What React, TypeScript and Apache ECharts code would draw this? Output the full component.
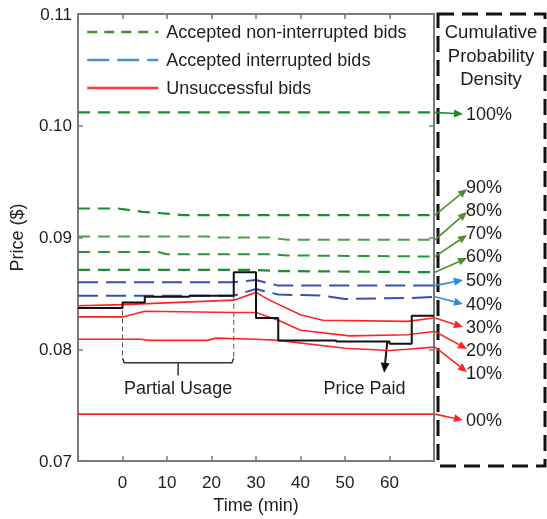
import React, { useEffect, useRef } from "react";
import * as echarts from "echarts";

// ---------- data ----------
const xMin = -10;
const xMax = 70;
const xInterval = 10;
const yMin = 0.07;
const yMax = 0.11;
const yInterval = 0.01;

const legendNames = [
  "Accepted non-interrupted bids",
  "Accepted interrupted bids",
  "Unsuccessful bids",
];

// Accepted non-interrupted bids (percentile curves)
const p100X = [-10, 70];
const p100Y = [0.1012, 0.1012];
const p90X = [-10, -1, 4.5, 11, 13.5, 70];
const p90Y = [0.0926, 0.0926, 0.0923, 0.0921, 0.092, 0.092];
const p80X = [-10, 19, 21, 33, 37, 70];
const p80Y = [0.0901, 0.0901, 0.09, 0.09, 0.0898, 0.0898];
const p70X = [-10, 8, 10, 33, 37, 70];
const p70Y = [0.0887, 0.0887, 0.0885, 0.0885, 0.0884, 0.0883];
const p60X = [-10, 30, 35, 70];
const p60Y = [0.0871, 0.0871, 0.087, 0.0869];

// Accepted interrupted bids
const p50X = [-10, 25, 30, 35, 70];
const p50Y = [0.086, 0.086, 0.0862, 0.0857, 0.0857];
const p40X = [-10, 25, 30, 35, 45, 50, 65, 70];
const p40Y = [0.0848, 0.0848, 0.0854, 0.0849, 0.0848, 0.0845, 0.0846, 0.0847];

// Unsuccessful bids
const p30X = [-10, 0, 25, 30, 33, 40, 45, 64, 70];
const p30Y = [0.0839, 0.084, 0.0844, 0.0851, 0.0844, 0.0831, 0.0826, 0.0825, 0.0828];
const p20X = [-10, 0, 5, 25, 30, 35, 40, 51, 64, 70];
const p20Y = [0.0829, 0.0829, 0.0834, 0.0833, 0.0833, 0.0826, 0.0817, 0.0812, 0.0813, 0.0816];
const p10X = [-10, 4, 6, 19, 21, 30, 35, 50, 60, 64, 70];
const p10Y = [0.0809, 0.0809, 0.0808, 0.0808, 0.081, 0.0809, 0.0808, 0.0801, 0.0799, 0.08, 0.0802];
const p00X = [-10, 70];
const p00Y = [0.0742, 0.0742];

// Price paid (step, value held until next x)
const priceX = [-10, 0, 5, 15, 25, 30, 35, 48, 60, 65, 70];
const priceY = [0.0837, 0.0842, 0.0847, 0.0848, 0.0869, 0.0828, 0.0808, 0.0807, 0.0805, 0.083, 0.083];

// Percentile labels (top to bottom)
const pctLabels = ["100%", "90%", "80%", "70%", "60%", "50%", "40%", "30%", "20%", "10%", "00%"];

// Annotations
const partialStart = 0;
const partialEnd = 25;
const bracketY = 0.0788;
const bracketTipY = 0.07765;
const annotTextY = 0.07658;
const pricePaidFrom = [59.5, 0.0807];
const pricePaidTo = [58.8, 0.0779];
const pricePaidTextX = 54.4;

// ---------- styles ----------
const FONT = "Liberation Sans, Arial, Helvetica, sans-serif";
const GREEN_D = "#1f8a36";
const GREEN_L = "#44a24c";
const BLUE = "#3a4db3";
const RED = "#ff2424";
const ARROW_GREEN = "#4f8d31";
const ARROW_BLUE = "#2b8be0";
const TEXT = "#1e1e1e";
const AXIS = "#7a7a7a";

const zip = (xs: number[], ys: number[]) => xs.map((x, i) => [x, ys[i]]);

type Spec = { x: number[]; y: number[]; name: string; color: string; dash: any; width: number; arrow: string };
const specs: Spec[] = [
  { x: p100X, y: p100Y, name: legendNames[0], color: GREEN_D, dash: [12, 8], width: 2.2, arrow: GREEN_D },
  { x: p90X, y: p90Y, name: legendNames[0], color: GREEN_D, dash: [12, 8], width: 2.2, arrow: ARROW_GREEN },
  { x: p80X, y: p80Y, name: legendNames[0], color: GREEN_L, dash: [12, 8], width: 2, arrow: ARROW_GREEN },
  { x: p70X, y: p70Y, name: legendNames[0], color: "#2a9340", dash: [12, 8], width: 2, arrow: ARROW_GREEN },
  { x: p60X, y: p60Y, name: legendNames[0], color: GREEN_D, dash: [12, 8], width: 2.2, arrow: ARROW_GREEN },
  { x: p50X, y: p50Y, name: legendNames[1], color: BLUE, dash: [20, 8], width: 2, arrow: ARROW_BLUE },
  { x: p40X, y: p40Y, name: legendNames[1], color: BLUE, dash: [20, 8], width: 2, arrow: ARROW_BLUE },
  { x: p30X, y: p30Y, name: legendNames[2], color: RED, dash: "solid", width: 1.6, arrow: RED },
  { x: p20X, y: p20Y, name: legendNames[2], color: RED, dash: "solid", width: 1.6, arrow: RED },
  { x: p10X, y: p10Y, name: legendNames[2], color: RED, dash: "solid", width: 1.6, arrow: RED },
  { x: p00X, y: p00Y, name: legendNames[2], color: RED, dash: "solid", width: 1.6, arrow: RED },
];

// label layout (pixel positions on the right panel)
const pctLabelX = 466;
const pctLabelYs = [114, 187, 210, 233, 256, 280, 304, 327, 350, 373, 420];

function arrow(x1: number, y1: number, x2: number, y2: number, color: string, w = 1.5, L = 9, H = 4) {
  const ang = Math.atan2(y2 - y1, x2 - x1);
  const bx = x2 - L * Math.cos(ang);
  const by = y2 - L * Math.sin(ang);
  const nx = -Math.sin(ang);
  const ny = Math.cos(ang);
  return [
    { type: "line", silent: true, shape: { x1, y1, x2: bx, y2: by }, style: { stroke: color, lineWidth: w } },
    {
      type: "polygon",
      silent: true,
      shape: { points: [[x2, y2], [bx + nx * H, by + ny * H], [bx - nx * H, by - ny * H]] },
      style: { fill: color },
    },
  ];
}

export default function App() {
  const ref = useRef<HTMLDivElement>(null);
  useEffect(() => {
    const chart = echarts.init(ref.current!, null, { renderer: "svg" });
    const tickStyle = { inside: true, length: 5, lineStyle: { color: AXIS, width: 1.5 } };
    const axisLine = { show: true, onZero: false, lineStyle: { color: AXIS, width: 2 } };

    const series: any[] = specs.map((s) => ({
      type: "line",
      name: s.name,
      data: zip(s.x, s.y),
      symbol: "none",
      showSymbol: false,
      lineStyle: { color: s.color, type: s.dash, width: s.width },
      itemStyle: { color: s.color },
      z: 2,
    }));
    series.push({
      type: "line",
      name: "Price Paid",
      data: zip(priceX, priceY),
      step: "end",
      symbol: "none",
      lineStyle: { color: "#111", width: 2 },
      z: 4,
    });
    // Partial usage bracket
    series.push({
      type: "line",
      name: "guide-a",
      data: [[partialStart, priceY[1]], [partialStart, bracketY + 0.0004]],
      symbol: "none",
      lineStyle: { color: "#555", width: 1, type: [5, 3] },
      z: 3,
    });
    series.push({
      type: "line",
      name: "guide-b",
      data: [[partialEnd, priceY[3]], [partialEnd, bracketY + 0.0004]],
      symbol: "none",
      lineStyle: { color: "#555", width: 1, type: [5, 3] },
      z: 3,
    });
    series.push({
      type: "line",
      name: "bracket",
      data: [
        [partialStart, bracketY + 0.0004],
        [partialStart + 0.4, bracketY],
        [partialEnd - 0.4, bracketY],
        [partialEnd, bracketY + 0.0004],
      ],
      symbol: "none",
      lineStyle: { color: "#333", width: 1.5 },
      z: 3,
    });
    series.push({
      type: "line",
      name: "bracket-tip",
      data: [[(partialStart + partialEnd) / 2, bracketY], [(partialStart + partialEnd) / 2, bracketTipY]],
      symbol: "none",
      lineStyle: { color: "#333", width: 1.5 },
      z: 3,
    });

    const option: any = {
      animation: false,
      textStyle: { fontFamily: FONT },
      grid: { left: 78, right: 113, top: 14, bottom: 55, containLabel: false },
      legend: {
        orient: "vertical",
        left: 86,
        top: 23,
        padding: 0,
        itemWidth: 71,
        itemHeight: 14,
        itemGap: 10,
        selectedMode: false,
        itemStyle: { opacity: 0 },
        textStyle: { fontSize: 18, color: TEXT, fontFamily: FONT, padding: [0, 0, 0, 3] },
        data: [
          { name: legendNames[0], itemStyle: { opacity: 0 }, lineStyle: { color: "#4e8c3a", type: [10, 7], width: 2.5 } },
          { name: legendNames[1], itemStyle: { opacity: 0 }, lineStyle: { color: "#4a90d9", type: [22, 8], width: 2.5 } },
          { name: legendNames[2], itemStyle: { opacity: 0 }, lineStyle: { color: "#ff3a3a", type: "solid", width: 2.5 } },
        ],
      },
      xAxis: [
        {
          type: "value",
          min: xMin,
          max: xMax,
          interval: xInterval,
          position: "bottom",
          name: "Time (min)",
          nameLocation: "middle",
          nameGap: 32,
          nameTextStyle: { fontSize: 18, color: TEXT, fontFamily: FONT },
          axisLine,
          axisTick: tickStyle,
          splitLine: { show: false },
          axisLabel: {
            fontSize: 17,
            color: TEXT,
            fontFamily: FONT,
            margin: 13,
            showMinLabel: false,
            showMaxLabel: false,
            formatter: (v: number) => (v < 0 || v > 60 ? "" : String(v)),
          },
        },
        {
          type: "value",
          min: xMin,
          max: xMax,
          interval: xInterval,
          position: "top",
          axisLine,
          axisTick: tickStyle,
          axisLabel: { show: false },
          splitLine: { show: false },
        },
      ],
      yAxis: [
        {
          type: "value",
          min: yMin,
          max: yMax,
          interval: yInterval,
          position: "left",
          name: "Price ($)",
          nameLocation: "middle",
          nameGap: 52,
          nameTextStyle: { fontSize: 18, color: TEXT, fontFamily: FONT },
          axisLine,
          axisTick: tickStyle,
          splitLine: { show: false },
          axisLabel: {
            fontSize: 17,
            color: TEXT,
            fontFamily: FONT,
            margin: 6,
            formatter: (v: number) => v.toFixed(2),
          },
        },
        {
          type: "value",
          min: yMin,
          max: yMax,
          interval: yInterval,
          position: "right",
          axisLine,
          axisTick: tickStyle,
          axisLabel: { show: false },
          splitLine: { show: false },
        },
      ],
      series,
    };
    chart.setOption(option);

    const toPx = (x: number, y: number) =>
      chart.convertToPixel({ xAxisIndex: 0, yAxisIndex: 0 }, [x, y]) as number[];

    const g: any[] = [];
    // right dashed panel
    g.push({
      type: "rect",
      silent: true,
      shape: { x: 438, y: 14, width: 107, height: 452 },
      style: { fill: "none", stroke: "#111", lineWidth: 3, lineDash: [16, 8] },
    });
    g.push({
      type: "text",
      silent: true,
      x: 491,
      y: 20,
      style: {
        text: "Cumulative\nProbability\nDensity",
        fontSize: 18.5,
        fontFamily: FONT,
        fill: TEXT,
        align: "center",
        verticalAlign: "top",
        lineHeight: 23.5,
      },
    });
    specs.forEach((s, i) => {
      const [sx, sy] = toPx(s.x[s.x.length - 1], s.y[s.y.length - 1]);
      const ly = pctLabelYs[i];
      const slanted = Math.abs(ly - sy) > 10;
      const tipX = slanted ? pctLabelX + 1 : pctLabelX - 3;
      const tipY = slanted ? (ly < sy ? ly + 2 : ly - 1) : ly;
      g.push(...arrow(sx + 1, sy, tipX, tipY, s.arrow, 1.6));
      g.push({
        type: "text",
        silent: true,
        x: pctLabelX,
        y: ly,
        style: { text: pctLabels[i], fontSize: 18, fontFamily: FONT, fill: TEXT, align: "left", verticalAlign: "middle" },
      });
    });
    // annotations
    const [pux, puy] = toPx((partialStart + partialEnd) / 2, annotTextY);
    g.push({
      type: "text",
      silent: true,
      x: pux,
      y: puy,
      style: { text: "Partial Usage", fontSize: 18, fontFamily: FONT, fill: TEXT, align: "center", verticalAlign: "middle" },
    });
    const [ppx, ppy] = toPx(pricePaidTextX, annotTextY);
    g.push({
      type: "text",
      silent: true,
      x: ppx,
      y: ppy,
      style: { text: "Price Paid", fontSize: 18, fontFamily: FONT, fill: TEXT, align: "center", verticalAlign: "middle" },
    });
    const [a1x, a1y] = toPx(pricePaidFrom[0], pricePaidFrom[1]);
    const [a2x, a2y] = toPx(pricePaidTo[0], pricePaidTo[1]);
    g.push(...arrow(a1x, a1y, a2x, a2y, "#111", 2, 10, 4.5));

    chart.setOption({ graphic: g });
    return () => chart.dispose();
  }, []);
  return <div ref={ref} style={{ position: "fixed", left: 0, top: 0, width: 547, height: 519 }} />;
}
